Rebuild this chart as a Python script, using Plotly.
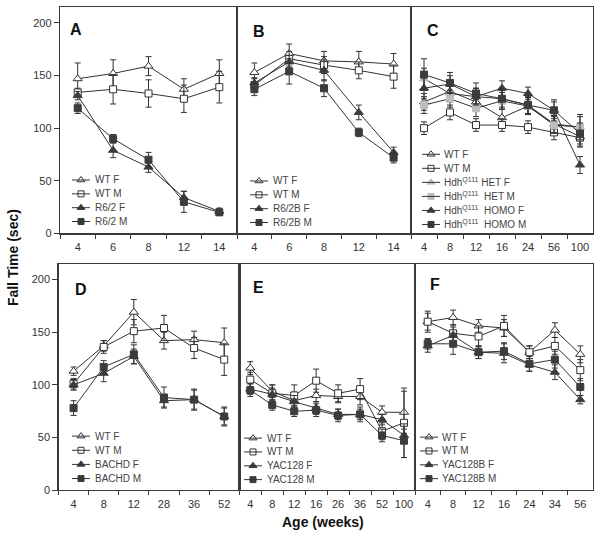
import plotly.graph_objects as go

W, H = 600, 543

# ---------------- data ----------------
A_cats = ["4", "6", "8", "12", "14"]
A_wtf = [147, 152, 159, 137, 152]
A_wtf_e = [15, 13, 9, 10, 13]
A_wtm = [134, 137, 133, 128, 139]
A_wtm_e = [4, 14, 13, 13, 15]
A_mf = [131, 79, 63, 34, 21]
A_mf_e = [4, 7, 5, 6, 3]
A_mm = [119, 90, 70, 30, 20]
A_mm_e = [5, 4, 7, 10, 3]

B_cats = ["4", "6", "8", "12", "14"]
B_wtf = [153, 171, 164, 163, 161]
B_wtf_e = [9, 9, 9, 10, 10]
B_wtm = [141, 166, 160, 155, 149]
B_wtm_e = [6, 7, 8, 8, 11]
B_mf = [143, 163, 155, 115, 77]
B_mf_e = [5, 6, 10, 7, 5]
B_mm = [137, 154, 138, 96, 72]
B_mm_e = [6, 12, 8, 4, 5]

C_cats = ["4", "8", "12", "16", "24", "56", "100"]
C_wtf = [125, 135, 125, 110, 121, 104, 92]
C_wtf_e = [8, 8, 8, 8, 8, 8, 10]
C_wtm = [100, 115, 103, 103, 101, 96, 91]
C_wtm_e = [6, 7, 6, 6, 6, 7, 8]
C_hetf = [147, 133, 130, 128, 122, 104, 101]
C_hetf_e = [10, 8, 8, 8, 8, 8, 12]
C_hetm = [122, 128, 119, 126, 121, 103, 101]
C_hetm_e = [8, 8, 8, 8, 8, 8, 10]
C_homf = [138, 142, 130, 138, 133, 117, 65]
C_homf_e = [10, 8, 8, 7, 6, 8, 8]
C_homm = [151, 143, 133, 128, 122, 117, 95]
C_homm_e = [15, 10, 10, 10, 9, 10, 10]

D_cats = ["4", "8", "12", "28", "36", "52"]
D_wtf = [113, 137, 169, 142, 143, 140]
D_wtf_e = [4, 5, 12, 8, 8, 14]
D_wtm = [101, 136, 151, 154, 135, 124]
D_wtm_e = [5, 6, 11, 12, 10, 15]
D_mf = [100, 111, 127, 85, 86, 70]
D_mf_e = [5, 8, 7, 6, 9, 8]
D_mm = [78, 117, 129, 88, 86, 70]
D_mm_e = [7, 6, 9, 10, 10, 9]

E_cats = ["4", "8", "12", "16", "26", "36", "52", "100"]
E_wtf = [116, 94, 85, 90, 89, 89, 74, 74]
E_wtf_e = [6, 6, 8, 6, 6, 8, 6, 20]
E_wtm = [105, 92, 90, 104, 92, 96, 56, 64]
E_wtm_e = [7, 8, 10, 11, 8, 10, 8, 33]
E_mf = [96, 91, 84, 78, 72, 72, 67, 52]
E_mf_e = [5, 6, 6, 6, 5, 5, 5, 6]
E_mm = [95, 81, 75, 76, 71, 72, 52, 47]
E_mm_e = [6, 5, 5, 6, 6, 7, 6, 16]

F_cats = ["4", "8", "12", "16", "24", "34", "56"]
F_wtf = [160, 164, 156, 154, 131, 152, 129]
F_wtf_e = [8, 7, 6, 8, 6, 7, 8]
F_wtm = [160, 149, 146, 156, 131, 137, 114]
F_wtm_e = [10, 8, 10, 10, 6, 8, 10]
F_mf = [137, 147, 131, 130, 119, 112, 86]
F_mf_e = [6, 8, 6, 9, 6, 7, 4]
F_mm = [139, 139, 131, 132, 120, 124, 98]
F_mm_e = [5, 10, 6, 8, 7, 8, 8]

Y_TICKS = [0, 50, 100, 150, 200]
HDH = "Hdh<sup>Q111</sup>"

# ---------------- styles ----------------
DARK = "#333333"
FILL = "#3c3c3c"
LIGHT = "#bdbdbd"
STY = {
    "wtf": dict(symbol="triangle-up", size=8, color="white", line=dict(color=DARK, width=1)),
    "wtm": dict(symbol="square", size=7, color="white", line=dict(color=DARK, width=1)),
    "mf": dict(symbol="triangle-up", size=8, color=FILL, line=dict(color=FILL, width=1)),
    "mm": dict(symbol="square", size=7, color=FILL, line=dict(color=FILL, width=1)),
    "hf": dict(symbol="triangle-up", size=8, color=LIGHT, line=dict(color=LIGHT, width=1)),
    "hm": dict(symbol="square", size=7, color=LIGHT, line=dict(color=LIGHT, width=1)),
}

panels = [
    dict(letter="A", cats=A_cats, xdom=(60, 237), ydom=(7.3, 236), letter_xy=(75.5, 29.5),
         leg=(72, 90, 93, 182, 14),
         series=[("WT F", "wtf", A_wtf, A_wtf_e), ("WT M", "wtm", A_wtm, A_wtm_e),
                 ("R6/2 F", "mf", A_mf, A_mf_e), ("R6/2 M", "mm", A_mm, A_mm_e)]),
    dict(letter="B", cats=B_cats, xdom=(237, 411), ydom=(7.3, 236), letter_xy=(258.5, 31.5),
         leg=(250, 268, 271, 183, 14),
         series=[("WT F", "wtf", B_wtf, B_wtf_e), ("WT M", "wtm", B_wtm, B_wtm_e),
                 ("R6/2B F", "mf", B_mf, B_mf_e), ("R6/2B M", "mm", B_mm, B_mm_e)]),
    dict(letter="C", cats=C_cats, xdom=(411, 593), ydom=(7.3, 236), letter_xy=(432.5, 30.5),
         leg=(422, 440, 442, 156, 14.2),
         series=[("WT F", "wtf", C_wtf, C_wtf_e), ("WT M", "wtm", C_wtm, C_wtm_e),
                 (HDH + " HET F", "hf", C_hetf, C_hetf_e), (HDH + "  HET M", "hm", C_hetm, C_hetm_e),
                 (HDH + "  HOMO F", "mf", C_homf, C_homf_e), (HDH + "  HOMO M", "mm", C_homm, C_homm_e)]),
    dict(letter="D", cats=D_cats, xdom=(58.5, 239.3), ydom=(266.7, 495.7), letter_xy=(80.5, 292.5),
         leg=(72, 90, 93, 441, 14.3),
         series=[("WT F", "wtf", D_wtf, D_wtf_e), ("WT M", "wtm", D_wtm, D_wtm_e),
                 ("BACHD F", "mf", D_mf, D_mf_e), ("BACHD M", "mm", D_mm, D_mm_e)]),
    dict(letter="E", cats=E_cats, xdom=(239.3, 415), ydom=(266.7, 495.7), letter_xy=(258, 291),
         leg=(244, 262, 265, 443, 14),
         series=[("WT F", "wtf", E_wtf, E_wtf_e), ("WT M", "wtm", E_wtm, E_wtm_e),
                 ("YAC128 F", "mf", E_mf, E_mf_e), ("YAC128 M", "mm", E_mm, E_mm_e)]),
    dict(letter="F", cats=F_cats, xdom=(415, 593), ydom=(266.7, 495.7), letter_xy=(435.3, 287.5),
         leg=(420, 438, 440, 442, 14),
         series=[("WT F", "wtf", F_wtf, F_wtf_e), ("WT M", "wtm", F_wtm, F_wtm_e),
                 ("YAC128B F", "mf", F_mf, F_mf_e), ("YAC128B M", "mm", F_mm, F_mm_e)]),
]

FONT = "Liberation Sans, Arial, Helvetica, sans-serif"
fig = go.Figure()
layout = dict(
    width=W, height=H, margin=dict(l=0, r=0, t=0, b=0),
    paper_bgcolor="white", plot_bgcolor="rgba(0,0,0,0)",
    showlegend=False, hovermode=False,
    font=dict(family=FONT, color="#222", size=11),
)
annotations = []
shapes = []

OV = 7  # overlay pixel-space axis for legends / labels
for i, p in enumerate(panels, start=1):
    xa = "x" if i == 1 else f"x{i}"
    ya = "y" if i == 1 else f"y{i}"
    x0, x1 = p["xdom"]
    ytop, ybot = p["ydom"]
    for name, st, vals, errs in p["series"]:
        fig.add_trace(go.Scatter(
            x=p["cats"], y=vals, xaxis=xa, yaxis=ya, mode="lines+markers",
            line=dict(color=DARK, width=1), marker=STY[st],
            error_y=dict(type="data", array=errs, visible=True, color=DARK, thickness=1, width=3),
            name=name, cliponaxis=False,
        ))
    first_col = i in (1, 4)
    layout["xaxis" if i == 1 else f"xaxis{i}"] = dict(
        domain=[x0 / W, x1 / W], anchor=ya, type="category",
        range=[-0.5, len(p["cats"]) - 0.5],
        showline=True, linecolor="#3a3a3a", linewidth=1.2, mirror=True,
        ticks="outside", tickson="boundaries", ticklen=4, tickcolor="#3a3a3a",
        tickangle=0, ticklabelstandoff=3,
        tickfont=dict(size=11, color="#333"), showgrid=False, zeroline=False, fixedrange=True,
    )
    layout["yaxis" if i == 1 else f"yaxis{i}"] = dict(
        domain=[1 - ybot / H, 1 - ytop / H], anchor=xa, range=[0, 215],
        showline=True, linecolor="#3a3a3a", linewidth=1.2, mirror=True,
        tickvals=Y_TICKS, showticklabels=first_col,
        ticks="outside" if first_col else "", ticklen=5, tickcolor="#3a3a3a",
        tickfont=dict(size=11, color="#333"), showgrid=False, zeroline=False, fixedrange=True,
    )
    # panel letter
    lx, ly = p["letter_xy"]
    annotations.append(dict(x=lx, y=ly, xref=f"x{OV}", yref=f"y{OV}", text=f"<b>{p['letter']}</b>",
                            showarrow=False, font=dict(size=16, color="#111"),
                            xanchor="center", yanchor="middle"))
    # legend
    l0, l1, tx, y0, step = p["leg"]
    for k, (name, st, vals, errs) in enumerate(p["series"]):
        yy = y0 + k * step
        shapes.append(dict(type="line", xref=f"x{OV}", yref=f"y{OV}", x0=l0, x1=l1, y0=yy, y1=yy,
                           line=dict(color=DARK, width=1)))
        m = dict(STY[st])
        m["size"] = m["size"] - 1
        fig.add_trace(go.Scatter(x=[(l0 + l1) / 2], y=[yy], xaxis=f"x{OV}", yaxis=f"y{OV}",
                                 mode="markers", marker=m, cliponaxis=False))
        annotations.append(dict(x=tx, y=yy, xref=f"x{OV}", yref=f"y{OV}", text=name, showarrow=False,
                                font=dict(size=10, color="#444"), xanchor="left", yanchor="middle"))

layout[f"xaxis{OV}"] = dict(domain=[0, 1], range=[0, W], visible=False, fixedrange=True, anchor=f"y{OV}")
layout[f"yaxis{OV}"] = dict(domain=[0, 1], range=[H, 0], visible=False, fixedrange=True, anchor=f"x{OV}")

annotations.append(dict(x=13, y=261, xref=f"x{OV}", yref=f"y{OV}", text="<b>Fall Time (sec)</b>",
                        textangle=-90, showarrow=False, font=dict(size=14, color="#111"),
                        xanchor="center", yanchor="middle"))
annotations.append(dict(x=323, y=528, xref=f"x{OV}", yref=f"y{OV}", text="<b>Age (weeks)</b>",
                        showarrow=False, font=dict(size=14, color="#111"),
                        xanchor="center", yanchor="middle"))

layout["annotations"] = annotations
layout["shapes"] = shapes
fig.update_layout(**layout)
fig.write_html(
    "out.html",
    config={"displayModeBar": False, "staticPlot": True},
    post_script="document.body.style.margin='0';document.body.style.overflow='hidden';",
)
